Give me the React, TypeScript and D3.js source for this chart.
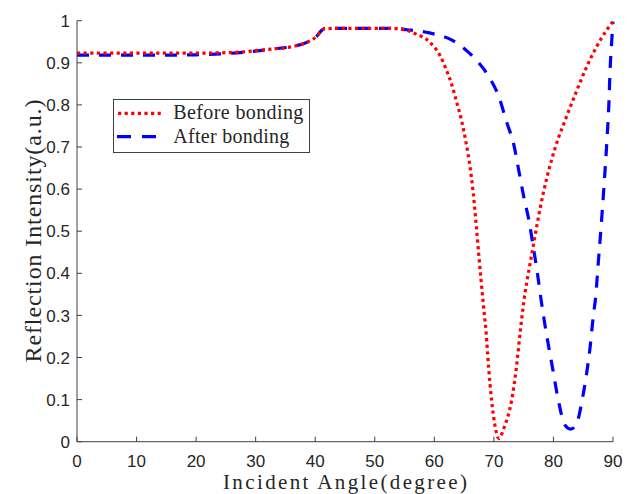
import React from "react";
import * as d3 from "d3";

const xTicks = [0, 10, 20, 30, 40, 50, 60, 70, 80, 90];
const yTicks = [0, 0.1, 0.2, 0.3, 0.4, 0.5, 0.6, 0.7, 0.8, 0.9, 1];
const yTickLabels = ["0", "0.1", "0.2", "0.3", "0.4", "0.5", "0.6", "0.7", "0.8", "0.9", "1"];

const seriesNames = ["Before bonding", "After bonding"];
const xTitle = "Incident Angle(degree)";
const yTitle = "Reflection Intensity(a.u.)";

const beforeAngles = [
  0, 5, 10, 15, 20, 25, 28, 30.7, 33, 36.3, 38.5, 40.2, 41.1, 41.6, 45, 50, 54.2,
  56.5, 59.3, 61.0, 62.1, 62.9, 63.7, 64.6, 65.3, 66.0, 66.5, 67.0, 67.5, 68.2,
  68.7, 69.1, 69.6, 70.2, 70.8, 71.8, 73.0, 73.8, 74.4, 75.0, 76.0, 76.6, 77.2,
  78.3, 79.7, 80.8, 82.0, 83.8, 85.5, 87.2, 88.9, 90,
];
const beforeValues = [
  0.923, 0.923, 0.923, 0.923, 0.923, 0.924, 0.926, 0.93, 0.933, 0.939, 0.948,
  0.9625, 0.977, 0.981, 0.982, 0.982, 0.981, 0.971, 0.948, 0.916, 0.88, 0.849,
  0.809, 0.761, 0.712, 0.652, 0.595, 0.52, 0.438, 0.33, 0.258, 0.179, 0.1,
  0.037, 0.008, 0.037, 0.1, 0.179, 0.258, 0.33, 0.417, 0.464, 0.512, 0.591, 0.67,
  0.72, 0.765, 0.83, 0.888, 0.937, 0.977, 0.998,
];

const afterAngles = [
  0, 10, 20, 22, 25, 28, 30.7, 33, 36.3, 38.5, 40.2, 41.1, 41.6, 45, 50, 51.5,
  55.1, 59.2, 63.2, 66.4, 69.1, 70.9, 72.1, 73.4, 74.1, 75.0, 75.9, 76.6, 77.3,
  78.0, 78.8, 79.8, 80.8, 81.9, 82.9, 83.8, 84.9, 85.6, 86.2, 86.7, 87.1, 87.5,
  88.0, 88.5, 89.0, 89.3, 89.5, 89.8, 90,
];
const afterValues = [
  0.918, 0.918, 0.919, 0.92, 0.922, 0.925, 0.929, 0.933, 0.939, 0.948, 0.9625,
  0.977, 0.981, 0.982, 0.982, 0.982, 0.979, 0.971, 0.952, 0.916, 0.868, 0.817,
  0.761, 0.702, 0.65, 0.583, 0.524, 0.464, 0.401, 0.33, 0.258, 0.179, 0.1, 0.04,
  0.03, 0.04, 0.105, 0.165, 0.23, 0.3, 0.345, 0.42, 0.51, 0.61, 0.72, 0.8,
  0.88, 0.955, 0.998,
];

export default function App() {
  const x = d3.scaleLinear().domain([0, 90]).range([77, 613]);
  const y = d3.scaleLinear().domain([0, 1]).range([441.7, 20.7]);

  const line = d3
    .line<[number, number]>()
    .x((d) => x(d[0]))
    .y((d) => y(d[1]))
    .curve(d3.curveMonotoneX);

  const beforePts = beforeAngles.map((a, i) => [a, beforeValues[i]] as [number, number]);
  const afterPts = afterAngles.map((a, i) => [a, afterValues[i]] as [number, number]);

  const axisColor = "#404040";
  const labelColor = "#262626";
  const tickFont = "'Liberation Sans', Arial, sans-serif";
  const serif = "'Liberation Serif', 'Times New Roman', serif";

  return (
    <svg
      width={634}
      height={494}
      style={{ position: "absolute", left: 0, top: 0, background: "#fff" }}
    >
      <rect x={0} y={0} width={634} height={494} fill="#fff" />
      {/* curves */}
      <path
        d={line(afterPts) || ""}
        fill="none"
        stroke="#0000ff"
        strokeWidth={3.2}
        strokeDasharray="12 10"
      />
      <path
        d={line(beforePts) || ""}
        fill="none"
        stroke="#ff0000"
        strokeWidth={3.2}
        strokeDasharray="3.2 3.4"
      />
      {/* axes */}
      <line x1={x(0)} x2={x(0)} y1={y(0)} y2={y(1)} stroke={axisColor} strokeWidth={1} />
      <line x1={x(0)} x2={x(90)} y1={y(0)} y2={y(0)} stroke={axisColor} strokeWidth={1} />
      {yTicks.map((t, i) => (
        <g key={"y" + i}>
          <line x1={x(0)} x2={x(0) + 5} y1={y(t)} y2={y(t)} stroke={axisColor} strokeWidth={1} />
          <text
            x={70}
            y={y(t)}
            dy="0.36em"
            textAnchor="end"
            fontFamily={tickFont}
            fontSize={17}
            fill={labelColor}
          >
            {yTickLabels[i]}
          </text>
        </g>
      ))}
      {xTicks.map((t, i) => (
        <g key={"x" + i}>
          <line x1={x(t)} x2={x(t)} y1={y(0)} y2={y(0) - 5} stroke={axisColor} strokeWidth={1} />
          <text
            x={x(t)}
            y={466.5}
            textAnchor="middle"
            fontFamily={tickFont}
            fontSize={17}
            fill={labelColor}
          >
            {String(t)}
          </text>
        </g>
      ))}
      {/* axis titles */}
      <text
        x={345}
        y={489}
        textAnchor="middle"
        fontFamily={serif}
        fontSize={21}
        fill={labelColor}
        textLength={244}
        lengthAdjust="spacing"
      >
        {xTitle}
      </text>
      <text
        transform={`translate(41,231) rotate(-90)`}
        textAnchor="middle"
        fontFamily={serif}
        fontSize={24}
        fill={labelColor}
        textLength={263}
        lengthAdjust="spacing"
      >
        {yTitle}
      </text>
      {/* legend */}
      <rect x={113.5} y={99.5} width={196} height={53} fill="#fff" stroke="#404040" strokeWidth={1} />
      <line x1={118} x2={163} y1={113.3} y2={113.3} stroke="#ff0000" strokeWidth={3.2} strokeDasharray="3.2 3.4" />
      <line x1={117} x2={157} y1={136.7} y2={136.7} stroke="#0000ff" strokeWidth={3.2} strokeDasharray="14 11" />
      <text x={173.3} y={119.3} fontFamily={serif} fontSize={20} fill={labelColor} textLength={130} lengthAdjust="spacing">
        {seriesNames[0]}
      </text>
      <text x={173.3} y={142.7} fontFamily={serif} fontSize={20} fill={labelColor} textLength={116} lengthAdjust="spacing">
        {seriesNames[1]}
      </text>
    </svg>
  );
}
